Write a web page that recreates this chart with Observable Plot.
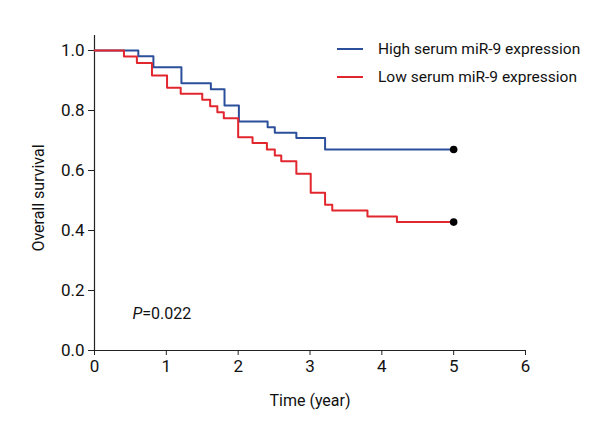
<!DOCTYPE html>
<html>
<head>
<meta charset="utf-8">
<script src="https://cdn.jsdelivr.net/npm/d3@7"></script>
<script src="https://cdn.jsdelivr.net/npm/@observablehq/plot@0.6"></script>
<style>
  body { margin: 0; background: #fff; }
  #wrap { position: relative; width: 600px; height: 440px; font-family: Roboto, "Liberation Sans", sans-serif; }
  #legend { position: absolute; left: 337px; top: 35px; font-size: 15.5px; color: #111; line-height: 28px; }
  #legend .row { display: flex; align-items: center; }
  #legend .sw { width: 26px; height: 2px; margin-right: 15px; }
</style>
</head>
<body>
<div id="wrap"></div>
<script>
const highTimes = [0, 0.61, 0.82, 1.21, 1.62, 1.81, 2.01, 2.41, 2.51, 2.81, 3.21, 5];
const highSurv  = [1, 0.981, 0.944, 0.891, 0.871, 0.817, 0.763, 0.744, 0.726, 0.708, 0.67, 0.67];
const lowTimes  = [0, 0.41, 0.59, 0.80, 1.01, 1.20, 1.50, 1.61, 1.71, 1.80, 2.0, 2.2, 2.4, 2.51, 2.6, 2.81, 3.01, 3.21, 3.31, 3.80, 4.21, 5];
const lowSurv   = [1, 0.98, 0.958, 0.917, 0.876, 0.856, 0.836, 0.814, 0.794, 0.774, 0.711, 0.692, 0.67, 0.65, 0.631, 0.589, 0.526, 0.486, 0.467, 0.447, 0.428, 0.428];
const seriesNames = ["High serum miR-9 expression", "Low serum miR-9 expression"];
const seriesColors = ["#2c4f9c", "#e2262d"];
const xTicks = [0, 1, 2, 3, 4, 5, 6];
const yTicks = [0, 0.2, 0.4, 0.6, 0.8, 1.0];
const pText = "=0.022";

const high = highTimes.map((t, i) => ({t, s: highSurv[i], g: seriesNames[0]}));
const low = lowTimes.map((t, i) => ({t, s: lowSurv[i], g: seriesNames[1]}));
const censor = [high[high.length - 1], low[low.length - 1]];

const font = 'Roboto, "Liberation Sans", sans-serif';

const chart = Plot.plot({
  width: 600,
  height: 440,
  marginLeft: 94,
  marginRight: 75,
  marginTop: 35,
  marginBottom: 90,
  style: {fontFamily: font, fontSize: "17px", color: "#111", background: "#fff"},
  x: {domain: [0, 6], label: null},
  y: {domain: [0, 1.05], label: null},
  color: {domain: seriesNames, range: seriesColors},
  marks: [
    Plot.ruleY([0], {stroke: "#222", strokeWidth: 1.2}),
    Plot.ruleX([0], {stroke: "#222", strokeWidth: 1.2, y1: 0, y2: 1.05}),
    Plot.axisX(xTicks, {tickSize: 5, tickPadding: 4, fontSize: 17, stroke: "#222", label: null}),
    Plot.axisY(yTicks, {tickSize: 6, tickPadding: 4, fontSize: 17, stroke: "#222", tickFormat: d3.format(".1f"), label: null}),
    Plot.line(high, {x: "t", y: "s", stroke: "g", curve: "step-after", strokeWidth: 2}),
    Plot.line(low, {x: "t", y: "s", stroke: "g", curve: "step-after", strokeWidth: 2}),
    Plot.dot(censor, {x: "t", y: "s", r: 3.8, fill: "#000"}),
    Plot.text(["Time (year)"], {frameAnchor: "bottom", dy: 55, fontSize: 16}),
    Plot.text(["Overall survival"], {frameAnchor: "left", dx: -56, dy: 5, rotate: -90, textAnchor: "middle", fontSize: 16}),
    Plot.text([pText], {frameAnchor: "bottom-left", dx: 38, dy: -32, textAnchor: "start", fontSize: 16,
      text: d => d, render(index, scales, values, dims, context, next) {
        const g = next(index, scales, values, dims, context);
        const t = g.querySelector("text");
        if (t) {
          const txt = t.textContent;
          t.textContent = "";
          const ns = "http://www.w3.org/2000/svg";
          const p = document.createElementNS(ns, "tspan");
          p.setAttribute("font-style", "italic");
          p.textContent = "P";
          const r = document.createElementNS(ns, "tspan");
          r.textContent = txt;
          t.appendChild(p); t.appendChild(r);
        }
        return g;
      }})
  ]
});

const wrap = document.getElementById("wrap");
wrap.appendChild(chart);
const legend = document.createElement("div");
legend.id = "legend";
seriesNames.forEach((n, i) => {
  const row = document.createElement("div");
  row.className = "row";
  const sw = document.createElement("span");
  sw.className = "sw";
  sw.style.background = seriesColors[i];
  const lab = document.createElement("span");
  lab.textContent = n;
  row.appendChild(sw); row.appendChild(lab);
  legend.appendChild(row);
});
wrap.appendChild(legend);
</script>
</body>
</html>
